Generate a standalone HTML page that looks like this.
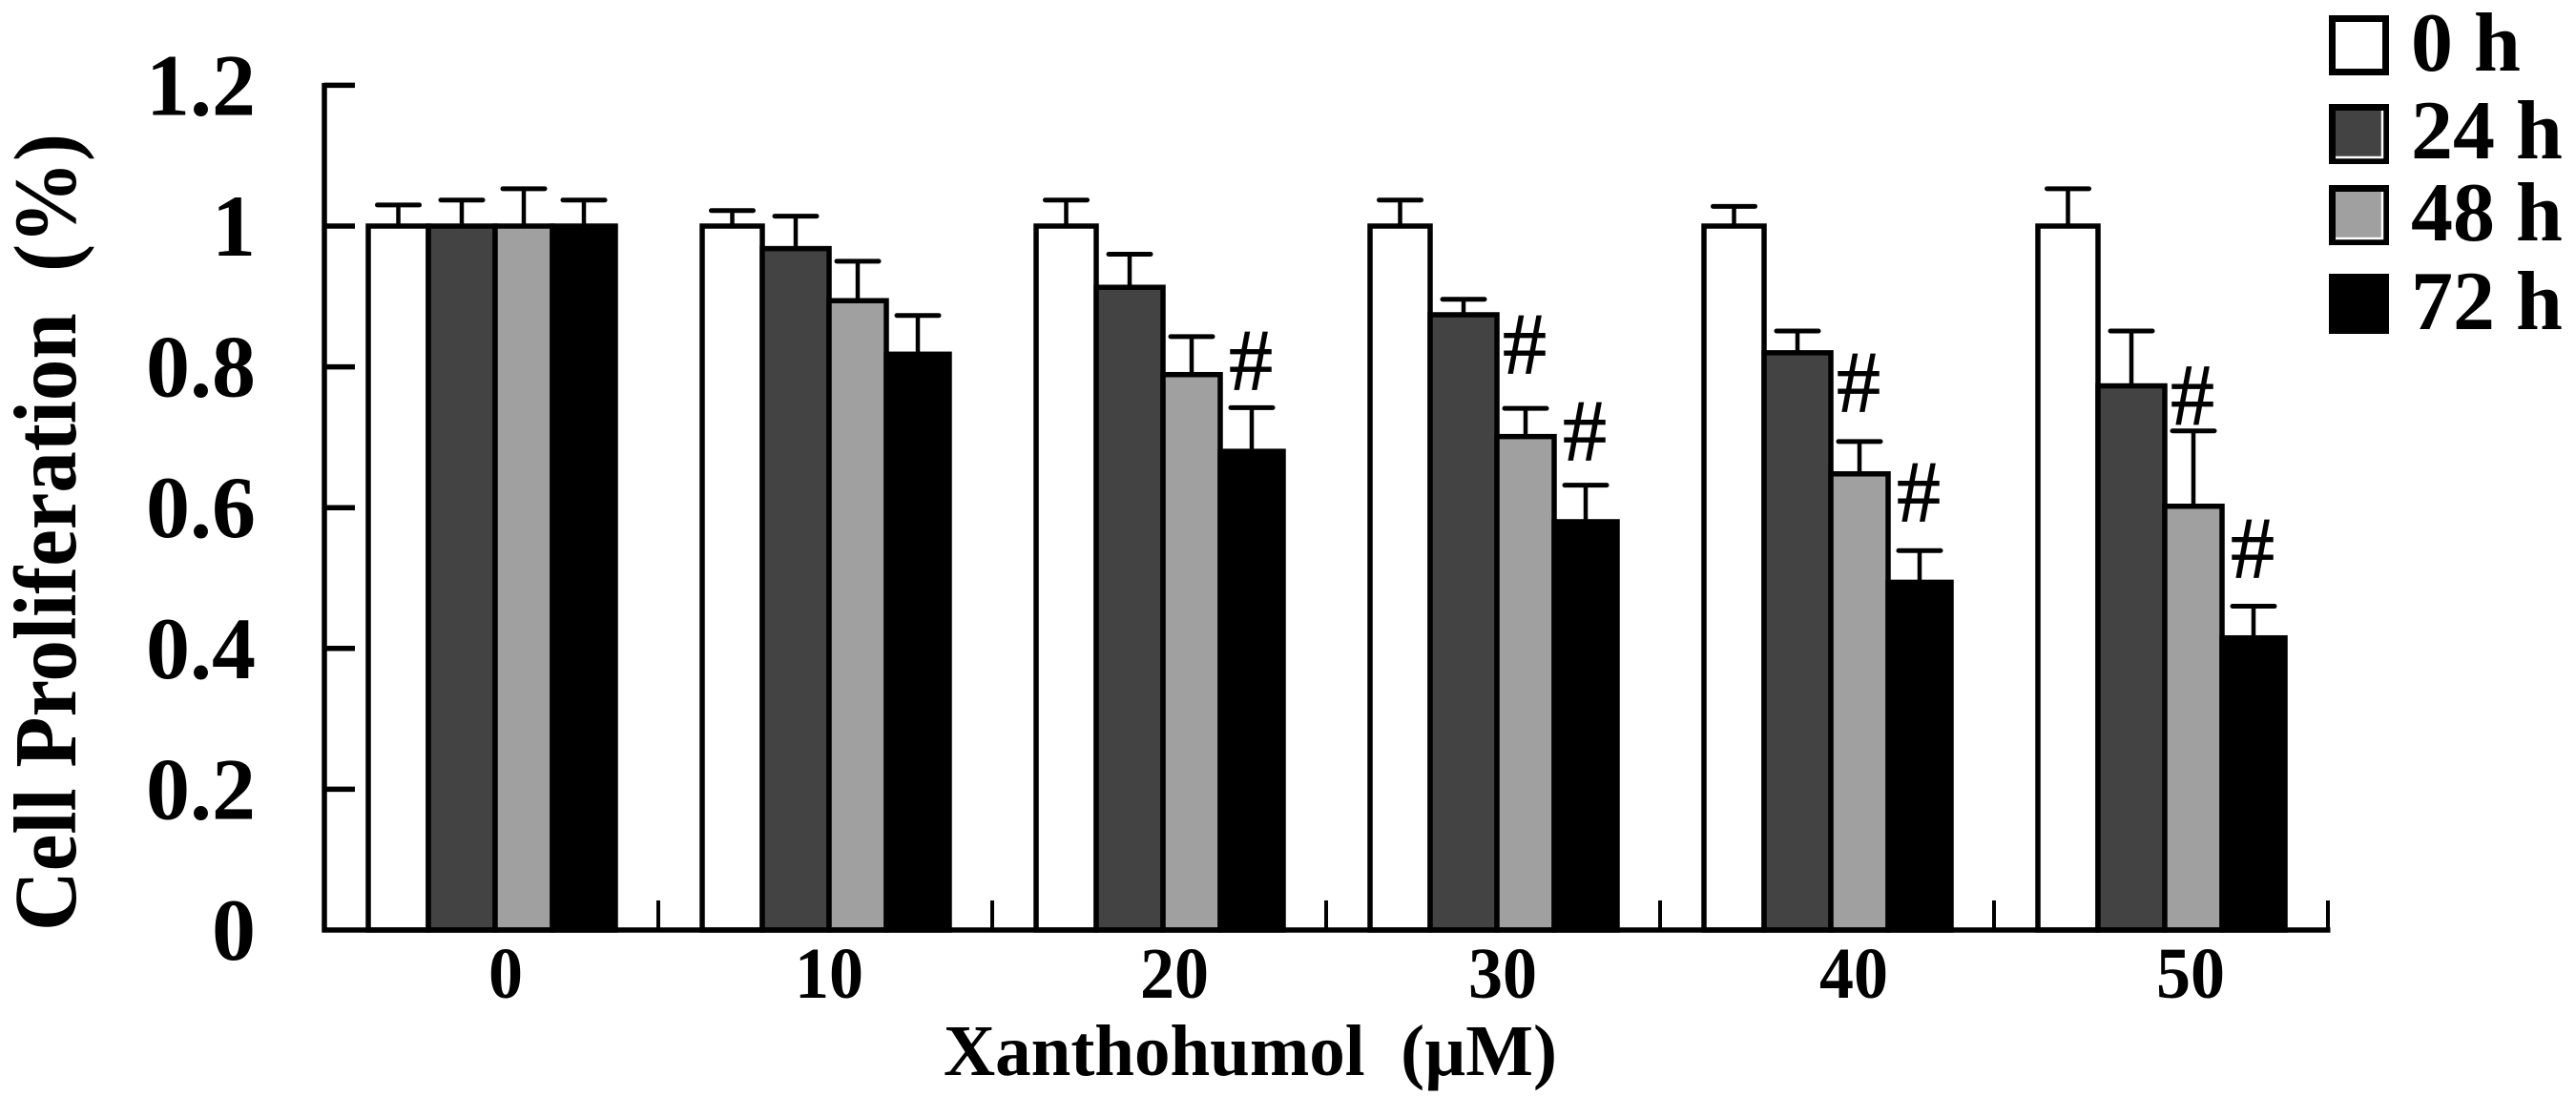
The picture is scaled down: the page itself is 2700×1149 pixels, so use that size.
<!DOCTYPE html>
<html lang="en">
<head>
<meta charset="utf-8">
<title>Cell Proliferation vs Xanthohumol</title>
<style>
html,body{margin:0;padding:0;background:#fff;}
svg{display:block;}
text{font-family:"Liberation Serif",serif;fill:#000;}
.b{font-weight:bold;}
</style>
</head>
<body>
<svg id="chart" xmlns="http://www.w3.org/2000/svg" width="2700" height="1149" viewBox="0 0 2700 1149">
  <rect x="0" y="0" width="2700" height="1149" fill="#fff"/>
  <g id="bars"></g>
  <g id="axes"></g>
  <g id="marks"></g>
  <text class="b" transform="translate(79,976) rotate(-90)" font-size="93" textLength="836" lengthAdjust="spacingAndGlyphs" xml:space="preserve">Cell Proliferation  (%)</text>
  <text class="b" x="989" y="1127" font-size="76" textLength="643" lengthAdjust="spacingAndGlyphs" xml:space="preserve">Xanthohumol  (µM)</text>
  <g id="legend"></g>
</svg>
<script>
const categories = ['0', '10', '20', '30', '40', '50'];
const seriesNames = ['0 h', '24 h', '48 h', '72 h'];
const yTickLabels = ['0', '0.2', '0.4', '0.6', '0.8', '1', '1.2'];
const yTickValues = [0, 0.2, 0.4, 0.6, 0.8, 1, 1.2];
const values0h  = [1, 1, 1, 1, 1, 1];
const values24h = [1, 0.968, 0.913, 0.874, 0.82, 0.773];
const values48h = [1, 0.894, 0.789, 0.701, 0.648, 0.602];
const values72h = [1, 0.818, 0.68, 0.58, 0.494, 0.415];
const errors0h  = [0.03, 0.022, 0.037, 0.037, 0.028, 0.053];
const errors24h = [0.037, 0.046, 0.047, 0.022, 0.031, 0.078];
const errors48h = [0.053, 0.056, 0.054, 0.04, 0.046, 0.107];
const errors72h = [0.037, 0.055, 0.062, 0.052, 0.045, 0.045];
const hashCategory = [2, 3, 3, 4, 4, 5, 5];
const hashSeries = [3, 2, 3, 2, 3, 2, 3];
const hashLevel = [0.808, 0.831, 0.708, 0.777, 0.621, 0.759, 0.541];

const seriesValues = [values0h, values24h, values48h, values72h];
const seriesErrors = [errors0h, errors24h, errors48h, errors72h];

const NS = 'http://www.w3.org/2000/svg';
const AXIS_LEFT = 340, AXIS_RIGHT = 2440, AXIS_BOTTOM = 975, PX_PER_UNIT = 738;
const BAR_INSET = 46;
const BAR_EDGES = [0, 63, 133, 193, 259];
const FILLS = ['#ffffff', '#434343', '#a0a0a0', '#000000'];
const X_LABEL_SHIFT = [15, 4, 16, 10, 28, 31];

function yScale(v) { return AXIS_BOTTOM - v * PX_PER_UNIT; }
function bandStart(i) { return AXIS_LEFT + i * (AXIS_RIGHT - AXIS_LEFT) / categories.length; }
function barLeft(c, s) { return bandStart(c) + BAR_INSET + BAR_EDGES[s]; }
function barRight(c, s) { return bandStart(c) + BAR_INSET + BAR_EDGES[s + 1]; }
function barMid(c, s) { return (barLeft(c, s) + barRight(c, s)) / 2; }

function make(tag, attrs, parent, txt) {
  const el = document.createElementNS(NS, tag);
  for (const k in attrs) el.setAttribute(k, attrs[k]);
  if (txt !== undefined) el.textContent = txt;
  parent.appendChild(el);
  return el;
}

const barsG = document.getElementById('bars');
const axesG = document.getElementById('axes');
const marksG = document.getElementById('marks');
const legendG = document.getElementById('legend');

categories.forEach(function (cat, c) {
  seriesValues.forEach(function (vals, s) {
    const v = vals[c], e = seriesErrors[s][c];
    const mid = barMid(c, s);
    const top = yScale(v), capY = yScale(v + e);
    const stem = make('line', {x1: mid, x2: mid, y1: top, y2: capY, stroke: '#000', 'stroke-width': 4.5}, barsG);
    
    
    const cap = make('line', {x1: mid - 22, x2: mid + 22, y1: capY, y2: capY, stroke: '#000', 'stroke-width': 5, 'stroke-linecap': 'round'}, barsG);
    
    
    const rect = make('rect', {
      x: barLeft(c, s), y: top,
      width: barRight(c, s) - barLeft(c, s),
      height: AXIS_BOTTOM - top,
      fill: FILLS[s], stroke: '#000', 'stroke-width': 5.5
    }, barsG);
    
    
  });
});

const yAxisLine = make('line', {x1: AXIS_LEFT, x2: AXIS_LEFT, y1: yScale(1.2) - 2.5, y2: AXIS_BOTTOM + 2.5, stroke: '#000', 'stroke-width': 5.5}, axesG);


const xAxisLine = make('line', {x1: AXIS_LEFT - 2.5, x2: AXIS_RIGHT + 2.5, y1: AXIS_BOTTOM, y2: AXIS_BOTTOM, stroke: '#000', 'stroke-width': 5.5}, axesG);



yTickValues.forEach(function (v, i) {
  const y = yScale(v);
  if (v > 0) {
    const t = make('line', {x1: AXIS_LEFT, x2: AXIS_LEFT + 32, y1: y, y2: y, stroke: '#000', 'stroke-width': 5.5}, axesG);
    
    
  }
  const l = make('text', {x: 268, y: y + 31, 'font-size': 92, 'text-anchor': 'end', class: 'b'}, axesG, yTickLabels[i]);
  
  
});

for (let i = 1; i <= categories.length; i++) {
  const x = bandStart(i);
  const t = make('line', {x1: x, x2: x, y1: AXIS_BOTTOM - 31, y2: AXIS_BOTTOM, stroke: '#000', 'stroke-width': 4}, axesG);
  
  
}

categories.forEach(function (cat, c) {
  const x = (bandStart(c) + bandStart(c + 1)) / 2 + X_LABEL_SHIFT[c];
  const l = make('text', {x: x, y: 1046, 'font-size': 76, 'text-anchor': 'middle', class: 'b', textLength: 36 * cat.length, lengthAdjust: 'spacingAndGlyphs'}, axesG, cat);
  
  
});

hashLevel.forEach(function (lvl, i) {
  const x = barMid(hashCategory[i], hashSeries[i]) - 1;
  const h = make('text', {x: x, y: yScale(lvl) + 30, 'font-size': 92, 'text-anchor': 'middle', stroke: '#000', 'stroke-width': 0.8}, marksG, '#');
  
  
});

const LEGEND_BOX_TOPS = [16, 109, 194, 287];
const LEGEND_BASELINES = [74, 166, 252, 345];
seriesNames.forEach(function (name, s) {
  const top = LEGEND_BOX_TOPS[s];
  const box = make('rect', {x: 2444.5, y: top + 3.5, width: 56, height: 56, fill: FILLS[s], stroke: '#000', 'stroke-width': 7}, legendG);
  
  
  if (s === 1 || s === 2) {
    const edge = make('path', {d: 'M2497 ' + (top + 7) + 'V' + (top + 56) + 'H2448', fill: 'none', stroke: '#fff', 'stroke-width': 2.5}, legendG);
    
    
  }
  const label = make('text', {x: 2527, y: LEGEND_BASELINES[s], 'font-size': 88, class: 'b'}, legendG, name);
  
  
});
</script>
</body>
</html>
